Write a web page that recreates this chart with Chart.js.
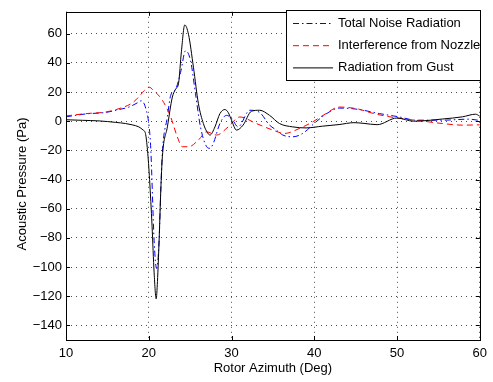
<!DOCTYPE html>
<html>
<head>
<meta charset="utf-8">
<script src="https://cdn.jsdelivr.net/npm/chart.js@4"></script>
<style>
  html, body { margin: 0; padding: 0; background: #fff; }
  #wrap { width: 493px; height: 382px; }
</style>
</head>
<body>
<div id="wrap"><canvas id="chart" width="493" height="382"></canvas></div>
<script>
// values
var seriesNames = ["Total Noise Radiation", "Interference from Nozzle", "Radiation from Gust"];

var totalX = [10, 12.4, 14.8, 16.4, 17.6, 18.6, 19.1, 19.65, 20.05, 20.25, 20.65, 20.95, 21.25, 21.45, 21.65, 22.25, 22.65, 23.25, 23.85, 24.45, 25.05, 25.65, 26.25, 27.0, 27.4, 27.8, 28.6, 29.4, 30.0, 30.8, 32.2, 33.4, 34.6, 35.4, 36.2, 37.4, 38.6, 40.2, 41.8, 43.0, 45.2, 47.9, 50.3, 52.3, 55.5, 58.7, 60];
var totalY = [3, 5, 6, 8, 9.7, 12.5, 14, 8.6, -3.9, -19.7, -82, -101, -82, -48, -21, 2.9, 17.7, 22, 33.5, 48.3, 41.5, 18.8, -3.9, -17.5, -18.6, -15.2, -1.6, 4, 2, -3.9, 7.5, 6, -2.7, -6, -9.5, -10.7, -8.4, -0.5, 6.3, 9, 8.2, 5.2, 2.9, 0.7, 0.7, 1.4, 0.5];

var nozzleX = [10, 12.4, 14.8, 16.4, 18.0, 18.85, 19.45, 20.05, 20.6, 21.65, 22.65, 23.45, 24.05, 24.85, 26.0, 27.0, 28.2, 29.6, 31.0, 33.0, 35.0, 36.4, 38.2, 39.8, 41.4, 43.0, 45.2, 47.2, 50, 53.2, 55.5, 57.9, 60];
var nozzleY = [3.6, 5.2, 6.3, 8.6, 12.5, 17, 21, 23.3, 21, 14.3, 2.9, -10.7, -17.5, -17.5, -12.9, -7.3, -9.5, -3.9, 2.9, -1.6, -6.1, -8.4, -5, -0.5, 5.2, 9.7, 8.5, 5.2, 2.2, 0, -1.6, -2.7, -2.5];

var gustX = [10, 12, 14, 16, 17.2, 18, 18.8, 19.3, 19.6, 19.85, 20.1, 20.4, 20.65, 20.9, 21.05, 21.25, 21.45, 21.65, 22.25, 22.85, 23.25, 23.6, 23.95, 24.35, 24.8, 25.4, 26.0, 26.6, 27.0, 27.4, 28.0, 28.6, 29.2, 29.6, 30.0, 30.6, 31.4, 32.4, 33.4, 34.6, 35.8, 37.4, 39.0, 41.0, 43.0, 44.8, 46.0, 47.6, 50.0, 52.0, 55.5, 57.9, 59.5, 60];
var gustY = [1, 0.6, 0.2, -0.8, -1.6, -2.5, -3.9, -6, -8.4, -20, -40, -72, -104, -121.8, -110, -82, -48, -24, -3.9, 16.5, 22, 26, 48, 66, 59.6, 37, 12, -1.6, -7, -9.5, -3.9, 5.2, 8, 6, 0.7, -6.1, -2.7, 6.8, 7.5, 4, -1.6, -3.9, -4.6, -3.4, -2.3, -1, -1.5, -2.4, 2.2, 0, 1.5, 3, 4.8, 3.5];

var xTicks = [10, 20, 30, 40, 50, 60];
var yTicks = [-140, -120, -100, -80, -60, -40, -20, 0, 20, 40, 60];

var FONT = "'Liberation Sans', Arial, Helvetica, sans-serif";
var FONT_SIZE = 13;

function toPoints(xs, ys) {
  var pts = [];
  for (var i = 0; i < xs.length; i++) pts.push({ x: xs[i], y: ys[i] });
  return pts;
}

function minusSign(v) {
  return String(v).replace("-", "\u2212");
}

var dashes = [[6, 3, 1.5, 3], [6, 4], []];
var lineColors = ["rgb(0,0,255)", "rgb(255,0,0)", "rgb(0,0,0)"];

// box, inward ticks, axis titles and legend like matlab draws them
var matlabBox = {
  id: "matlabBox",
  afterDraw: function (chart) {
    var ctx = chart.ctx;
    var a = chart.chartArea;
    var xs = chart.scales.x, ys = chart.scales.y;
    ctx.save();
    ctx.strokeStyle = "#000";
    ctx.lineWidth = 1;
    ctx.setLineDash([]);
    ctx.strokeRect(Math.round(a.left) + 0.5, Math.round(a.top) + 0.5, Math.round(a.right - a.left), Math.round(a.bottom - a.top));

    ctx.beginPath();
    xTicks.forEach(function (t) {
      var px = Math.round(xs.getPixelForValue(t)) + 0.5;
      ctx.moveTo(px, a.bottom); ctx.lineTo(px, a.bottom - 4);
      ctx.moveTo(px, a.top); ctx.lineTo(px, a.top + 4);
    });
    yTicks.forEach(function (t) {
      var py = Math.round(ys.getPixelForValue(t)) + 0.5;
      ctx.moveTo(a.left, py); ctx.lineTo(a.left + 4, py);
      ctx.moveTo(a.right, py); ctx.lineTo(a.right - 4, py);
    });
    ctx.stroke();

    ctx.fillStyle = "#000";
    ctx.font = FONT_SIZE + "px " + FONT;
    ctx.textAlign = "center";
    ctx.textBaseline = "middle";
    ctx.fillText("Rotor Azimuth (Deg)", (a.left + a.right) / 2, 368);
    ctx.save();
    ctx.translate(22, 184);
    ctx.rotate(-Math.PI / 2);
    ctx.fillText("Acoustic Pressure (Pa)", 0, 0);
    ctx.restore();

    // legend
    var lx = 286, ly = 10, lw = Math.round(a.right) - lx, lh = 70;
    ctx.fillStyle = "#fff";
    ctx.fillRect(lx, ly, lw, lh);
    ctx.strokeStyle = "#000";
    ctx.strokeRect(lx + 0.5, ly + 0.5, lw, lh);
    ctx.textAlign = "left";
    for (var i = 0; i < seriesNames.length; i++) {
      var yy = 23.5 + i * 22.2;
      ctx.strokeStyle = lineColors[i];
      ctx.setLineDash(dashes[i]);
      ctx.beginPath();
      ctx.moveTo(293, yy); ctx.lineTo(333, yy);
      ctx.stroke();
      ctx.setLineDash([]);
      ctx.fillStyle = "#000";
      ctx.fillText(seriesNames[i], 338, yy);
    }
    ctx.restore();
  }
};

var allX = [totalX, nozzleX, gustX];
var allY = [totalY, nozzleY, gustY];
var datasets = [];
for (var i = 0; i < 3; i++) {
  datasets.push({
    label: seriesNames[i],
    data: toPoints(allX[i], allY[i]),
    borderColor: lineColors[i],
    borderWidth: 1,
    borderDash: dashes[i],
    pointRadius: 0,
    fill: false,
    cubicInterpolationMode: "monotone",
    order: 3 - i
  });
}

new Chart(document.getElementById("chart"), {
  type: "line",
  data: { datasets: datasets },
  options: {
    responsive: false,
    animation: false,
    layout: { padding: { left: 0, right: 9, top: 9, bottom: 0 } },
    plugins: { legend: { display: false }, tooltip: { enabled: false } },
    scales: {
      x: {
        type: "linear",
        min: 10,
        max: 60,
        afterBuildTicks: function (s) { s.ticks = xTicks.map(function (v) { return { value: v }; }); },
        afterFit: function (s) { s.height = 42; },
        grid: { color: "rgba(0,0,0,0.7)", drawTicks: false, lineWidth: 1 },
        border: { display: false, dash: [1, 4] },
        ticks: { color: "#000", font: { family: FONT, size: FONT_SIZE }, padding: 6, maxRotation: 0 }
      },
      y: {
        min: -150,
        max: 75,
        afterBuildTicks: function (s) { s.ticks = yTicks.map(function (v) { return { value: v }; }); },
        afterFit: function (s) { s.width = 66; },
        grid: { color: "rgba(0,0,0,0.7)", drawTicks: false, lineWidth: 1 },
        border: { display: false, dash: [1, 4] },
        ticks: { color: "#000", font: { family: FONT, size: FONT_SIZE }, padding: 4, callback: function (v) { return minusSign(v); } }
      }
    }
  },
  plugins: [matlabBox]
});
</script>
</body>
</html>
